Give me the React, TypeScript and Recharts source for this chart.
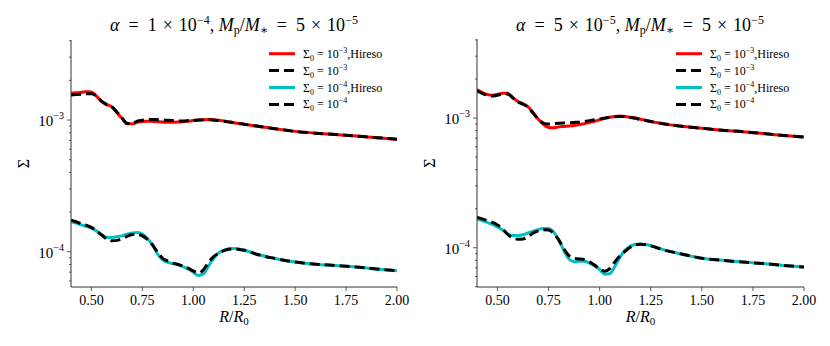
import React from "react";
import { LineChart, Line, XAxis, YAxis, Legend, Label } from "recharts";

// R/R0 sample positions shared by every curve
const radius = [
  0.4, 0.425, 0.45, 0.475, 0.5, 0.525, 0.55, 0.575, 0.6, 0.625, 0.65, 0.675,
  0.7, 0.725, 0.75, 0.775, 0.8, 0.825, 0.85, 0.875, 0.9, 0.925, 0.95, 0.975,
  1.0, 1.025, 1.05, 1.075, 1.1, 1.125, 1.15, 1.175, 1.2, 1.225, 1.25, 1.275,
  1.3, 1.4, 1.5, 1.6, 1.7, 1.8, 1.9, 2.0,
];

// left panel, alpha = 1e-4 (units: 1e-3 for Sigma0=1e-3, 1e-4 for Sigma0=1e-4)
const leftHires3 = [
  1.6, 1.61, 1.62, 1.64, 1.63, 1.52, 1.38, 1.31, 1.26, 1.14, 1.03, 0.935,
  0.935, 0.96, 0.975, 0.98, 0.975, 0.97, 0.965, 0.96, 0.962, 0.965, 0.97, 0.98,
  0.99, 1.0, 1.005, 1.008, 1.005, 0.995, 0.985, 0.97, 0.955, 0.94, 0.93, 0.915,
  0.905, 0.86, 0.82, 0.795, 0.775, 0.755, 0.735, 0.714,
];
const leftLow3 = [
  1.55, 1.56, 1.57, 1.58, 1.58, 1.52, 1.39, 1.31, 1.26, 1.15, 1.04, 0.945,
  0.94, 0.98, 0.995, 1.005, 1.01, 1.005, 1.0, 0.995, 0.99, 0.985, 0.985, 0.99,
  0.995, 1.0, 1.005, 1.005, 1.0, 0.99, 0.98, 0.965, 0.955, 0.94, 0.93, 0.915,
  0.905, 0.86, 0.82, 0.795, 0.775, 0.755, 0.735, 0.714,
];
const leftHires4 = [
  1.69, 1.65, 1.6, 1.56, 1.51, 1.44, 1.35, 1.29, 1.285, 1.3, 1.32, 1.36,
  1.39, 1.4, 1.36, 1.26, 1.12, 0.96, 0.87, 0.83, 0.815, 0.8, 0.77, 0.74,
  0.7, 0.66, 0.68, 0.78, 0.89, 0.98, 1.03, 1.055, 1.06, 1.05, 1.03, 1.0,
  0.97, 0.89, 0.835, 0.805, 0.785, 0.765, 0.74, 0.717,
];
const leftLow4 = [
  1.74, 1.69, 1.63, 1.59, 1.53, 1.44, 1.34, 1.25, 1.21, 1.22, 1.26, 1.31,
  1.35, 1.36, 1.32, 1.24, 1.13, 0.99, 0.89, 0.85, 0.82, 0.8, 0.78, 0.75,
  0.715, 0.69, 0.73, 0.83, 0.92, 0.975, 1.02, 1.045, 1.05, 1.04, 1.025, 1.0,
  0.97, 0.89, 0.835, 0.805, 0.785, 0.765, 0.74, 0.717,
];

// right panel, alpha = 5e-5
const rightHires3 = [
  1.66, 1.58, 1.52, 1.5, 1.52, 1.55, 1.55, 1.44, 1.34, 1.29, 1.22, 1.1,
  0.98, 0.895, 0.845, 0.842, 0.855, 0.862, 0.87, 0.877, 0.89, 0.905, 0.925, 0.945,
  0.97, 0.995, 1.015, 1.03, 1.035, 1.03, 1.015, 1.0, 0.98, 0.96, 0.94, 0.925,
  0.91, 0.865, 0.835, 0.805, 0.785, 0.76, 0.735, 0.713,
];
const rightLow3 = [
  1.62, 1.55, 1.5, 1.48, 1.5, 1.53, 1.53, 1.43, 1.33, 1.28, 1.21, 1.09,
  0.98, 0.915, 0.9, 0.905, 0.91, 0.915, 0.92, 0.925, 0.93, 0.94, 0.955, 0.97,
  0.985, 1.0, 1.015, 1.025, 1.03, 1.025, 1.01, 0.995, 0.975, 0.96, 0.94, 0.925,
  0.91, 0.865, 0.835, 0.805, 0.785, 0.76, 0.735, 0.713,
];
const rightHires4 = [
  1.67, 1.62, 1.57, 1.51, 1.45, 1.37, 1.28, 1.24, 1.24, 1.26, 1.3, 1.34,
  1.38, 1.41, 1.41, 1.32, 1.15, 0.95, 0.82, 0.78, 0.785, 0.785, 0.76, 0.725,
  0.68, 0.625, 0.63, 0.72, 0.85, 0.96, 1.03, 1.06, 1.07, 1.06, 1.04, 1.01,
  0.98, 0.895, 0.83, 0.8, 0.775, 0.755, 0.73, 0.71,
];
const rightLow4 = [
  1.72, 1.67, 1.62, 1.57, 1.5, 1.4, 1.27, 1.19, 1.165, 1.17, 1.22, 1.3,
  1.35, 1.375, 1.37, 1.29, 1.15, 0.98, 0.87, 0.83, 0.82, 0.81, 0.78, 0.735,
  0.69, 0.66, 0.69, 0.78, 0.87, 0.94, 1.01, 1.05, 1.065, 1.055, 1.035, 1.005,
  0.975, 0.895, 0.83, 0.8, 0.775, 0.755, 0.73, 0.71,
];

const xTicks = [0.5, 0.75, 1.0, 1.25, 1.5, 1.75, 2.0];
const yTicks = [
  5e-5, 6e-5, 7e-5, 8e-5, 9e-5, 1e-4, 2e-4, 3e-4, 4e-4, 5e-4, 6e-4, 7e-4,
  8e-4, 9e-4, 1e-3, 2e-3, 3e-3, 4e-3,
];

const series = [
  { key: "a", color: "#ff0000", dash: undefined, exp: "3", hires: true },
  { key: "b", color: "#000000", dash: "10 5", exp: "3", hires: false },
  { key: "c", color: "#00bfbf", dash: undefined, exp: "4", hires: true },
  { key: "d", color: "#000000", dash: "10 5", exp: "4", hires: false },
];

const SERIF = "'Liberation Serif', 'DejaVu Serif', serif";
const AXIS = "#333";
const SP = "\u2002";
const TS = "\u2004";

const buildRows = (h3: number[], l3: number[], h4: number[], l4: number[]) =>
  radius.map((r, i) => ({
    r,
    a: h3[i] * 1e-3,
    b: l3[i] * 1e-3,
    c: h4[i] * 1e-4,
    d: l4[i] * 1e-4,
  }));

const YTick = ({ x, y, payload }: any) => {
  const e = Math.log10(payload.value);
  const major = Math.abs(e - Math.round(e)) < 1e-6;
  return (
    <g>
      <line x1={x} x2={x - (major ? 4 : 2)} y1={y} y2={y} stroke={AXIS} strokeWidth={0.8} />
      {major && (
        <text x={x - 7} y={y + 6} textAnchor="end" fontFamily={SERIF} fontSize={15} fill="#000">
          10
          <tspan dy={-7} fontSize={10}>
            −{-Math.round(e)}
          </tspan>
        </text>
      )}
    </g>
  );
};

const XTick = ({ x, y, payload }: any) => (
  <g>
    <line x1={x} x2={x} y1={y} y2={y + 4} stroke={AXIS} strokeWidth={0.8} />
    <text x={x} y={y + 18} textAnchor="middle" fontFamily={SERIF} fontSize={14} fill="#000">
      {payload.value.toFixed(2)}
    </text>
  </g>
);

const LegendBox = () => (
  <svg width={135} height={72} style={{ display: "block" }}>
    {series.map((s, i) => {
      const cy = 9.7 + i * 16.9;
      return (
        <g key={s.key}>
          <line x1={4} x2={30} y1={cy} y2={cy} stroke={s.color} strokeWidth={3} strokeDasharray={s.dash} />
          <text x={38} y={cy + 4} fontFamily={SERIF} fontSize={12} fill="#000">
            Σ<tspan dy={3} fontSize={8}>0</tspan>
            <tspan dy={-3}> = 10</tspan>
            <tspan dy={-5} fontSize={8}>−{s.exp}</tspan>
            <tspan dy={5}>{s.hires ? ",Hireso" : ""}</tspan>
          </text>
        </g>
      );
    })}
  </svg>
);

interface PanelProps {
  rows: any[];
  yDomain: [number, number];
  margin: { top: number; right: number; bottom: number; left: number };
  legendLeft: number;
}

const Panel: React.FC<PanelProps> = ({ rows, yDomain, margin, legendLeft }) => (
  <LineChart width={415} height={346} data={rows} margin={margin}>
    <XAxis
      dataKey="r"
      type="number"
      domain={[0.4, 2.0]}
      ticks={xTicks}
      allowDataOverflow
      height={30}
      tickSize={0}
      tickMargin={0}
      tickLine={false}
      tick={<XTick />}
      interval={0}
      axisLine={{ stroke: AXIS, strokeWidth: 1 }}
    >
      <Label
        content={({ viewBox }: any) => (
          <text
            x={viewBox.x + viewBox.width / 2}
            y={viewBox.y + 35}
            textAnchor="middle"
            fontFamily={SERIF}
            fontSize={16}
            fill="#000"
          >
            <tspan fontStyle="italic">R</tspan>/<tspan fontStyle="italic">R</tspan>
            <tspan dy={3} fontSize={11}>0</tspan>
          </text>
        )}
      />
    </XAxis>
    <XAxis
      xAxisId="top"
      orientation="top"
      dataKey="r"
      type="number"
      domain={[0.4, 2.0]}
      height={0}
      tick={false}
      tickLine={false}
      axisLine={{ stroke: AXIS, strokeWidth: 1 }}
    />
    <YAxis
      scale="log"
      type="number"
      domain={yDomain}
      allowDataOverflow
      ticks={yTicks.filter((t) => t >= yDomain[0] && t <= yDomain[1])}
      interval={0}
      width={60}
      tickSize={0}
      tickMargin={0}
      tickLine={false}
      tick={<YTick />}
      axisLine={{ stroke: AXIS, strokeWidth: 1 }}
    >
      <Label
        content={({ viewBox }: any) => {
          const lx = viewBox.x + viewBox.width - 48;
          const ly = viewBox.y + viewBox.height / 2;
          return (
            <text
              x={lx}
              y={ly}
              transform={`rotate(-90, ${lx}, ${ly})`}
              textAnchor="middle"
              dominantBaseline="central"
              fontFamily={SERIF}
              fontSize={16}
              fill="#000"
            >
              Σ
            </text>
          );
        }}
      />
    </YAxis>
    <YAxis
      yAxisId="right"
      orientation="right"
      type="number"
      domain={[0, 1]}
      width={0}
      tick={false}
      tickLine={false}
      axisLine={{ stroke: AXIS, strokeWidth: 1 }}
    />
    <Legend
      content={LegendBox}
      layout="vertical"
      align="center"
      verticalAlign="middle"
      wrapperStyle={{ left: legendLeft, top: 44, width: 135 }}
    />
    {series.map((s) => (
      <Line
        key={s.key}
        dataKey={s.key}
        type="monotone"
        stroke={s.color}
        strokeWidth={3}
        strokeDasharray={s.dash}
        dot={false}
        activeDot={false}
        isAnimationActive={false}
      />
    ))}
  </LineChart>
);

const Title = ({ cx, alpha, exp }: { cx: number; alpha: string; exp: string }) => (
  <text x={cx} y={31} textAnchor="middle" fontFamily={SERIF} fontSize={18} fill="#000">
    <tspan fontStyle="italic">α</tspan>
    {`${SP}=${SP}${alpha}${TS}×${TS}10`}
    <tspan dy={-7} fontSize={12}>−{exp}</tspan>
    <tspan dy={7}>, </tspan>
    <tspan fontStyle="italic">M</tspan>
    <tspan dy={3} fontSize={12}>p</tspan>
    <tspan dy={-3}>/</tspan>
    <tspan fontStyle="italic">M</tspan>
    <tspan dy={3} fontSize={12}>∗</tspan>
    <tspan dy={-3}>{`${SP}=${SP}5${TS}×${TS}10`}</tspan>
    <tspan dy={-7} fontSize={12}>−5</tspan>
  </text>
);

export default function App() {
  const leftRows = buildRows(leftHires3, leftLow3, leftHires4, leftLow4);
  const rightRows = buildRows(rightHires3, rightLow3, rightHires4, rightLow4);
  return (
    <div style={{ position: "absolute", left: 0, top: 0, width: 830, height: 346, background: "#fff" }}>
      <div style={{ position: "absolute", left: 0, top: 0 }}>
        <Panel
          rows={leftRows}
          yDomain={[5.4e-5, 4.05e-3]}
          margin={{ top: 40, right: 18, bottom: 29, left: 11 }}
          legendLeft={265}
        />
      </div>
      <div style={{ position: "absolute", left: 415, top: 0 }}>
        <Panel
          rows={rightRows}
          yDomain={[4.98e-5, 4.07e-3]}
          margin={{ top: 39, right: 26, bottom: 29, left: 2 }}
          legendLeft={257}
        />
      </div>
      <svg width={830} height={346} style={{ position: "absolute", left: 0, top: 0, pointerEvents: "none" }}>
        <Title cx={234} alpha="1" exp="4" />
        <Title cx={640} alpha="5" exp="5" />
      </svg>
    </div>
  );
}
